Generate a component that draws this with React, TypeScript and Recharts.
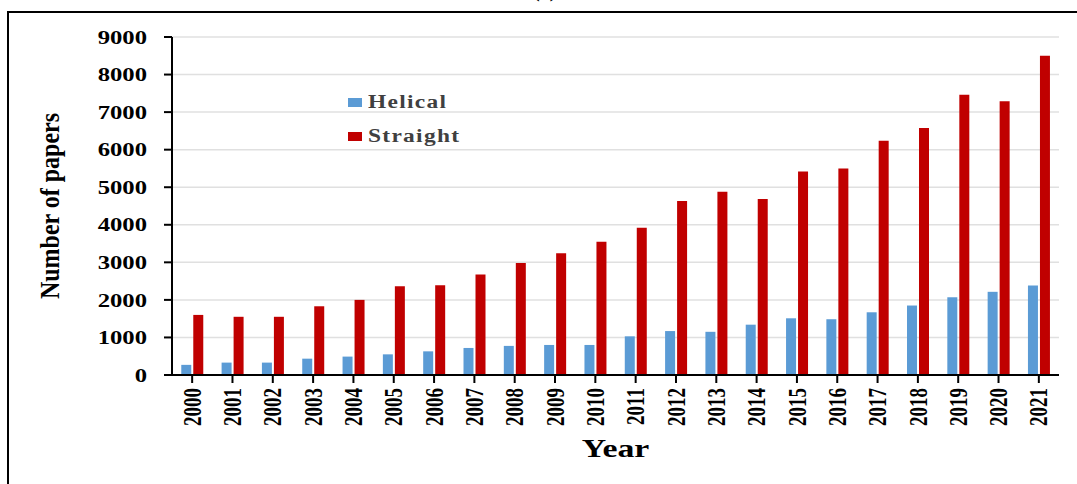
import React from 'react';
import { BarChart, Bar, XAxis, YAxis, CartesianGrid, Legend } from 'recharts';

const years = ['2000','2001','2002','2003','2004','2005','2006','2007','2008','2009','2010','2011','2012','2013','2014','2015','2016','2017','2018','2019','2020','2021'];
const helical = [270,330,330,435,490,550,630,720,775,800,800,1030,1170,1150,1340,1510,1485,1670,1850,2070,2215,2385];
const straight = [1600,1550,1550,1830,2000,2365,2390,2675,2985,3245,3550,3920,4630,4880,4685,5420,5500,6240,6580,7460,7290,8500];
const yTicks = [0,1000,2000,3000,4000,5000,6000,7000,8000,9000];

const data = years.map((y, i) => ({ year: y, Helical: helical[i], Straight: straight[i] }));

const SERIF = '"Liberation Serif", "Times New Roman", serif';

const YTick = (props: any) => {
  const { x, y, payload } = props;
  return (
    <g transform={`translate(${x},${y})`}>
      <text transform="scale(1.3,1)" textAnchor="end" dy="0.35em" fontFamily={SERIF} fontWeight="bold" fontSize={19} fill="#000">
        {payload.value}
      </text>
    </g>
  );
};

const XTick = (props: any) => {
  const { x, y, payload } = props;
  return (
    <g transform={`translate(${x},${y}) rotate(-90) scale(1,1.3)`}>
      <text textAnchor="end" dy="0.35em" fontFamily={SERIF} fontWeight="bold" fontSize={19} fill="#000">
        {payload.value}
      </text>
    </g>
  );
};

const XLabel = (props: any) => {
  const vb = props.viewBox || {};
  const cx = vb.x + vb.width / 2;
  return (
    <text transform={`translate(${cx},457) scale(1.3,1)`} textAnchor="middle" fontFamily={SERIF} fontWeight="bold" fontSize={26} fill="#000">
      Year
    </text>
  );
};

const YLabel = (props: any) => {
  const vb = props.viewBox || {};
  const cy = vb.y + vb.height / 2;
  return (
    <text transform={`translate(49,${cy}) rotate(-90) scale(1,1.15)`} textAnchor="middle" dy="0.35em" fontFamily={SERIF} fontWeight="bold" fontSize={24} fill="#000">
      Number of papers
    </text>
  );
};

const renderLegend = (props: any) => {
  const { payload } = props;
  return (
    <div>
      {(payload || []).map((p: any, i: number) => (
        <div key={i} style={{ display: 'flex', alignItems: 'center', height: 20, marginBottom: i === 0 ? 14 : 0 }}>
          <div style={{ width: 14, height: 9, background: p.color, marginRight: 6 }} />
          <span style={{ fontFamily: SERIF, fontWeight: 'bold', fontSize: 18, color: '#404040', letterSpacing: 1, display: 'inline-block', transform: 'scaleX(1.3)', transformOrigin: 'left center', whiteSpace: 'nowrap' }}>
            {p.value}
          </span>
        </div>
      ))}
    </div>
  );
};

export default function App() {
  return (
    <div style={{ position: 'absolute', left: 0, top: 0, width: 1077, height: 484, overflow: 'hidden', background: '#fff' }}>
      <div style={{ position: 'absolute', left: 7, top: 11, width: 1100, height: 500, borderTop: '2px solid #000', borderLeft: '2px solid #000' }} />
      <div style={{ position: 'absolute', left: 533, top: -21, fontFamily: SERIF, fontWeight: 'bold', fontSize: 20, color: '#000' }}>(a)</div>
      <div style={{ position: 'absolute', left: 0, top: 0 }}>
        <BarChart width={1077} height={484} data={data} margin={{ top: 37, right: 18, left: 20, bottom: 9 }} barCategoryGap="23%" barGap={2}>
          <CartesianGrid vertical={false} stroke="#e0e0e0" strokeWidth={1.5} />
          <XAxis
            dataKey="year"
            height={100}
            interval={0}
            tick={<XTick />}
            tickSize={8}
            tickMargin={5}
            axisLine={{ stroke: '#000', strokeWidth: 2 }}
            tickLine={{ stroke: '#000', strokeWidth: 2 }}
            label={<XLabel />}
          />
          <YAxis
            width={152}
            domain={[0, 9000]}
            ticks={yTicks}
            interval={0}
            tick={<YTick />}
            tickSize={8}
            tickMargin={17}
            axisLine={{ stroke: '#000', strokeWidth: 2 }}
            tickLine={{ stroke: '#000', strokeWidth: 2 }}
            label={<YLabel />}
          />
          <Legend
            layout="vertical"
            align="center"
            verticalAlign="middle"
            content={renderLegend}
            wrapperStyle={{ position: 'absolute', left: 348, top: 92, width: 200, height: 'auto' }}
          />
          <Bar dataKey="Helical" fill="#5B9BD5" isAnimationActive={false} />
          <Bar dataKey="Straight" fill="#C00000" isAnimationActive={false} />
        </BarChart>
      </div>
    </div>
  );
}
